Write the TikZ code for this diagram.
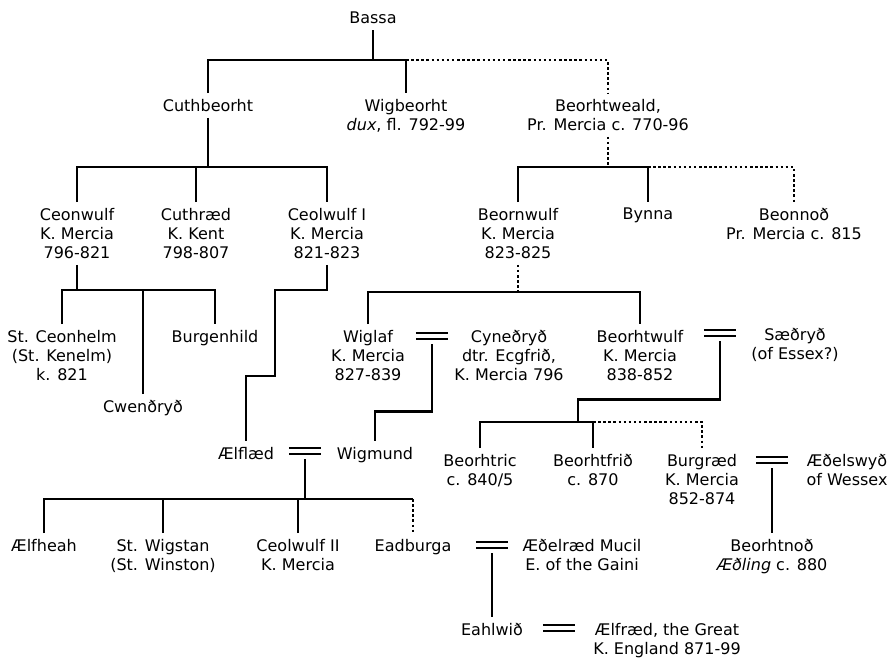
\documentclass[tikz,border=0pt]{standalone}
\usepackage{fontspec}
\setmainfont{DejaVu Sans}
\usepackage{tikz}

\begin{document}
\begin{tikzpicture}[x=1pt,y=-1pt,line width=2.5pt,
		person/.style={font=\fontsize{16}{19}\selectfont,align=center,inner sep=5pt,anchor=north,yshift=11pt},
		wed/.style={minimum width=30pt,minimum height=14pt,inner sep=0pt},
		couple/.style={double,double distance=3.3pt,line width=2.3pt},
		guess/.style={dash pattern=on 2.5pt off 2.6pt}]
		\useasboundingbox (0,0) rectangle (890,657);

		% Bassa and his sons
		\node[person] (bassa) at (373,17) {Bassa};
		\node[person] (cuthbeorht) at (208,104) {Cuthbeorht};
		\node[person] (wigbeorht) at (406,104) {Wigbeorht\\\textit{dux}, fl. 792-99};
		\node[person] (beorhtweald) at (608,104) {Beorhtweald,\\Pr. Mercia c. 770-96};

		\node[person] (ceonwulf) at (77,213) {Ceonwulf\\K. Mercia\\796-821};
		\node[person] (cuthraed) at (196,213) {Cuthræd\\K. Kent\\798-807};
		\node[person] (ceolwulfI) at (327,213) {Ceolwulf I\\K. Mercia\\821-823};
		\node[person] (beornwulf) at (518,213) {Beornwulf\\K. Mercia\\823-825};
		\node[person] (bynna) at (648,213) {Bynna};
		\node[person] (beonnod) at (794,213) {Beonnoð\\Pr. Mercia c. 815};

		\node[person] (ceonhelm) at (62,335) {St. Ceonhelm\\(St. Kenelm)\\k. 821};
		\node[person] (burgenhild) at (215,335) {Burgenhild};
		\node[person] (cwendryd) at (143,405) {Cwenðryð};
		\node[person] (wiglaf) at (368,335) {Wiglaf\\K. Mercia\\827-839};
		\node[wed] (wWC) at (432,336) {};
		\node[person] (cynedryd) at (509,335) {Cyneðryð\\dtr. Ecgfrið,\\K. Mercia 796};
		\node[person] (beorhtwulf) at (640,335) {Beorhtwulf\\K. Mercia\\838-852};
		\node[wed] (wBS) at (720,333) {};
		\node[person] (saedryd) at (795,333) {Sæðryð\\(of Essex?)};

		\node[person] (aelflaed) at (246,452) {Ælflæd};
		\node[wed] (wAW) at (305,451) {};
		\node[person] (wigmund) at (375,452) {Wigmund};
		\node[person] (beorhtric) at (480,459) {Beorhtric\\c. 840/5};
		\node[person] (beorhtfrid) at (593,459) {Beorhtfrið\\c. 870};
		\node[person] (burgraed) at (702,459) {Burgræd\\K. Mercia\\852-874};
		\node[wed] (wBA) at (772,460) {};
		\node[person] (aedelswyd) at (847,459) {Æðelswyð\\of Wessex};

		\node[person] (aelfheah) at (44,544) {Ælfheah};
		\node[person] (wigstan) at (163,544) {St. Wigstan\\(St. Winston)};
		\node[person] (ceolwulfII) at (298,544) {Ceolwulf II\\K. Mercia};
		\node[person] (eadburga) at (413,544) {Eadburga};
		\node[wed] (wEA) at (492,545) {};
		\node[person] (aedelraed) at (582,544) {Æðelræd Mucil\\E. of the Gaini};
		\node[person] (beorhtnod) at (772,544) {Beorhtnoð\\\textit{Æðling} c. 880};

		\node[person] (eahlwid) at (492,628) {Eahlwið};
		\node[wed] (wEE) at (559,628) {};
		\node[person] (aelfraed) at (667,628) {Ælfræd, the Great\\K. England 871-99};

		% marriages
		\foreach \w in {wWC,wBS,wAW,wBA,wEA,wEE}
			\draw[couple] (\w.west) -- (\w.east);

		% descent lines
		\coordinate (j0) at (373,60);
		\draw (bassa.south) -- (j0);
		\draw (cuthbeorht.north) |- (j0) -| (wigbeorht.north);
		\draw[guess] (wigbeorht.north |- j0) -| (beorhtweald.north);

		\coordinate (j1) at (208,167);
		\draw (cuthbeorht.south) -- (j1);
		\draw (ceonwulf.north) |- (j1) -| (ceolwulfI.north);
		\draw (cuthraed.north) -- (cuthraed.north |- j1);

		\coordinate (j2) at (608,167);
		\draw[guess] (beorhtweald.south) -- (j2);
		\draw (beornwulf.north) |- (j2) -| (bynna.north);
		\draw[guess] (bynna.north |- j2) -| (beonnod.north);

		\coordinate (j3) at (77,290);
		\draw (ceonwulf.south) -- (j3);
		\draw (ceonhelm.north) |- (j3) -| (burgenhild.north);
		\draw (cwendryd.north) -- (cwendryd.north |- j3);

		\coordinate (k1) at (275,290);
		\coordinate (k2) at (246,376);
		\draw (ceolwulfI.south) |- (k1) |- (k2) -- (aelflaed.north);

		\coordinate (j4) at (518,292);
		\draw[guess] (beornwulf.south) -- (j4);
		\draw (wiglaf.north) |- (j4) -| (beorhtwulf.north);
		\draw (wWC.south) -- ++(0,67) -| (wigmund.north);

		\coordinate (j5) at (578,422);
		\draw (wBS.south) -- ++(0,58) -| (j5);
		\draw (beorhtric.north) |- (j5) -| (beorhtfrid.north);
		\draw[guess] (beorhtfrid.north |- j5) -| (burgraed.north);
		\draw (wBA.south) -- (beorhtnod.north);

		\coordinate (j6) at (305,499);
		\draw (wAW.south) -- (j6);
		\draw (aelfheah.north) |- (eadburga.north |- j6);
		\draw (wigstan.north) -- (wigstan.north |- j6);
		\draw (ceolwulfII.north) -- (ceolwulfII.north |- j6);
		\draw[guess] (eadburga.north |- j6) -- (eadburga.north);
		\draw (wEA.south) -- (eahlwid.north);
	\end{tikzpicture}
\end{document}
